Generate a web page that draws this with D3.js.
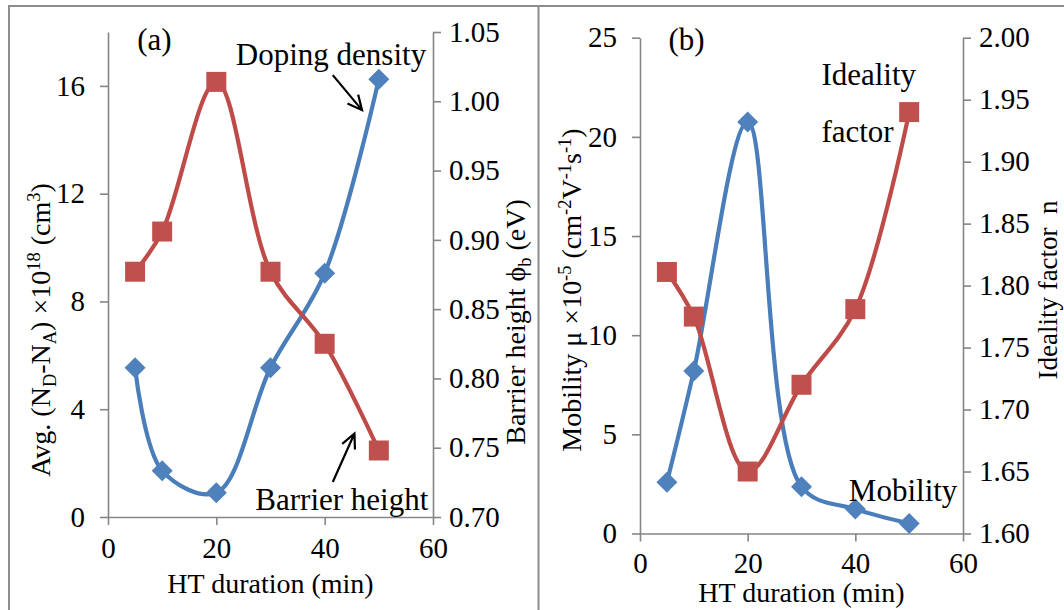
<!DOCTYPE html>
<html>
<head>
<meta charset="utf-8">
<script src="https://cdn.jsdelivr.net/npm/d3@7"></script>
<style>
  html, body { margin: 0; padding: 0; background: #fff; }
  svg { display: block; font-family: "Liberation Serif", "Times New Roman", serif; }
</style>
</head>
<body>
<svg id="chart" width="1064" height="610"></svg>
<script>
// ---------------- data ----------------
const htDuration = [5, 10, 20, 30, 40, 50];
// panel (a)
const dopingDensity = [5.54, 1.72, 0.90, 5.54, 9.05, 16.25];      // x10^18 (left axis)
const barrierHeight = [0.877, 0.906, 1.014, 0.877, 0.825, 0.748]; // eV (right axis)
// panel (b)
const mobility = [2.58, 8.20, 20.75, 2.36, 1.23, 0.51];           // x10^-5 (left axis)
const idealityFactor = [1.811, 1.775, 1.650, 1.720, 1.781, 1.940]; // (right axis)

// tick labels
const xTicks = [0, 20, 40, 60];
const aLeftTicks = [0, 4, 8, 12, 16];
const aRightTicks = [0.70, 0.75, 0.80, 0.85, 0.90, 0.95, 1.00, 1.05];
const bLeftTicks = [0, 5, 10, 15, 20, 25];
const bRightTicks = [1.60, 1.65, 1.70, 1.75, 1.80, 1.85, 1.90, 1.95, 2.00];

// ---------------- style ----------------
const FONT = '"Liberation Serif", "Times New Roman", serif';
const BLUE = "#4a7ebb", BLUE_M = "#4f81bd";
const RED = "#be4b48", RED_M = "#c0504d";
const AXIS = "#868686";
const TICK_FS = 29, TITLE_FS = 28, NOTE_FS = 31;

const svg = d3.select("#chart");

// frames
svg.append("rect").attr("x", 9).attr("y", 6).attr("width", 1080).attr("height", 640)
  .attr("fill", "none").attr("stroke", "#8c8c8c").attr("stroke-width", 2);
svg.append("line").attr("x1", 538.5).attr("x2", 538.5).attr("y1", 6).attr("y2", 620)
  .attr("stroke", "#8c8c8c").attr("stroke-width", 2);

// ---------------- scales ----------------
const xA = d3.scaleLinear().domain([0, 60]).range([108, 433]);
const yAL = d3.scaleLinear().domain([0, 18]).range([517, 32]);
const yAR = d3.scaleLinear().domain([0.70, 1.05]).range([517, 32]);

const xB = d3.scaleLinear().domain([0, 60]).range([640, 963]);
const yBL = d3.scaleLinear().domain([0, 25]).range([533.5, 37.7]);
const yBR = d3.scaleLinear().domain([1.60, 2.00]).range([533.5, 37.7]);

function styleAxis(g) {
  g.attr("font-family", FONT).attr("font-size", TICK_FS);
  g.selectAll(".domain").attr("stroke", AXIS).attr("stroke-width", 1.6);
  g.selectAll(".tick line").attr("stroke", AXIS).attr("stroke-width", 1.6);
  g.selectAll(".tick text").attr("fill", "#000");
}

function drawAxes(x, yL, yR, xT, yLT, yRT, yLfmt, yRfmt, padL, padR, padX) {
  const y0 = yL.range()[0];
  svg.append("g").attr("transform", `translate(0,${y0})`)
    .call(d3.axisBottom(x).tickValues(xT).tickFormat(d3.format("d"))
      .tickSize(8).tickSizeOuter(0).tickPadding(padX))
    .call(styleAxis);
  svg.append("g").attr("transform", `translate(${x.range()[0]},0)`)
    .call(d3.axisLeft(yL).tickValues(yLT).tickFormat(yLfmt)
      .tickSize(8).tickSizeOuter(0).tickPadding(padL))
    .call(styleAxis);
  svg.append("g").attr("transform", `translate(${x.range()[1]},0)`)
    .call(d3.axisRight(yR).tickValues(yRT).tickFormat(yRfmt)
      .tickSize(8).tickSizeOuter(0).tickPadding(padR))
    .call(styleAxis);
}

drawAxes(xA, yAL, yAR, xTicks, aLeftTicks, aRightTicks, d3.format("d"), d3.format(".2f"), 15, 8, 12);
drawAxes(xB, yBL, yBR, xTicks, bLeftTicks, bRightTicks, d3.format("d"), d3.format(".2f"), 15, 8, 11);

// ---------------- series ----------------
function drawSeries(x, y, values, lineColor, markerColor, marker) {
  const pts = htDuration.map((d, i) => [x(d), y(values[i])]);
  svg.append("path")
    .attr("d", d3.line().curve(d3.curveCatmullRom.alpha(0.5))(pts))
    .attr("fill", "none").attr("stroke", lineColor).attr("stroke-width", 4.2)
    .attr("stroke-linejoin", "round").attr("stroke-linecap", "round");
  const shape = marker === "diamond"
    ? "M0,-10.5L10.5,0L0,10.5L-10.5,0Z"
    : "M-10,-10H10V10H-10Z";
  svg.append("g").selectAll("path").data(pts).join("path")
    .attr("transform", d => `translate(${d[0]},${d[1]})`)
    .attr("d", shape).attr("fill", markerColor);
}

drawSeries(xA, yAL, dopingDensity, BLUE, BLUE_M, "diamond");
drawSeries(xA, yAR, barrierHeight, RED, RED_M, "square");
drawSeries(xB, yBL, mobility, BLUE, BLUE_M, "diamond");
drawSeries(xB, yBR, idealityFactor, RED, RED_M, "square");

// ---------------- axis titles ----------------
function rotTitle(xPos, yPos, parts, fs) {
  fs = fs || TITLE_FS;
  const t = svg.append("text")
    .attr("transform", `translate(${xPos},${yPos}) rotate(-90)`)
    .attr("text-anchor", "middle").attr("font-family", FONT)
    .attr("font-size", fs).attr("fill", "#000");
  let shift = 0;
  parts.forEach(p => {
    const target = p.sub ? 6 : p.sup ? -10 : 0;
    const sp = t.append("tspan").text(p.t).attr("dy", target - shift);
    if (p.sub || p.sup) sp.attr("font-size", fs * 0.66);
    shift = target;
  });
}

rotTitle(50, 330, [
  {t: "Avg. (N"}, {t: "D", sub: 1}, {t: "-N"}, {t: "A", sub: 1}, {t: ") ×10"},
  {t: "18", sup: 1}, {t: " (cm"}, {t: "3", sup: 1}, {t: ")"}
]);
rotTitle(525, 322, [
  {t: "Barrier height ϕ"}, {t: "b", sub: 1}, {t: " (eV)"}
]);
rotTitle(581, 290, [
  {t: "Mobility μ ×10"}, {t: "-5", sup: 1}, {t: " (cm"}, {t: "-2", sup: 1}, {t: "V"},
  {t: "-1", sup: 1}, {t: "s"}, {t: "-1", sup: 1}, {t: ")"}
]);
rotTitle(1057, 290, [{t: "Ideality factor\u00a0\u00a0n"}], 27);

// x titles
svg.append("text").attr("x", (xA.range()[0] + xA.range()[1]) / 2).attr("y", 593)
  .attr("text-anchor", "middle").attr("font-family", FONT).attr("font-size", TITLE_FS)
  .text("HT duration (min)");
svg.append("text").attr("x", (xB.range()[0] + xB.range()[1]) / 2).attr("y", 602)
  .attr("text-anchor", "middle").attr("font-family", FONT).attr("font-size", TITLE_FS)
  .text("HT duration (min)");

// ---------------- annotations ----------------
function note(x, y, txt) {
  svg.append("text").attr("x", x).attr("y", y).attr("font-family", FONT)
    .attr("font-size", NOTE_FS).text(txt);
}
note(xA(5.4), 50, "(a)");
note(xB(5.3), 50, "(b)");
note(xA(23.6), 65, "Doping density");
note(xA(27.2), 510, "Barrier height");
note(xB(33.7), 85, "Ideality");
note(xB(33.7), 142, "factor");
note(xB(38.8), 501, "Mobility");

function arrow(x1, y1, x2, y2) {
  const ang = Math.atan2(y2 - y1, x2 - x1);
  const L = 16, a = 0.45;
  const p1 = [x2 - L * Math.cos(ang - a), y2 - L * Math.sin(ang - a)];
  const p2 = [x2 - L * Math.cos(ang + a), y2 - L * Math.sin(ang + a)];
  svg.append("path")
    .attr("d", `M${x1},${y1}L${x2},${y2}M${p1[0]},${p1[1]}L${x2},${y2}L${p2[0]},${p2[1]}`)
    .attr("fill", "none").attr("stroke", "#000").attr("stroke-width", 2.2);
}
// arrows positioned in data space
arrow(xA(41.5), yAL(16.4), xA(46.9), yAL(15.1));
arrow(xA(41.5), yAL(1.3), xA(45.5), yAL(3.1));
</script>
</body>
</html>
